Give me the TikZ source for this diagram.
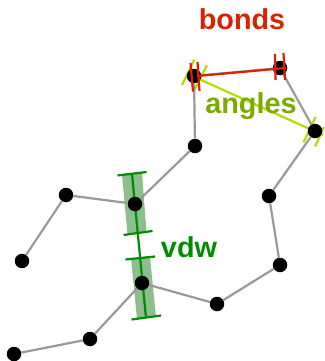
\documentclass[tikz,border=0pt]{standalone}
\usepackage{fontspec}
\setmainfont{Liberation Sans}
\definecolor{bondgray}{HTML}{999999}
\definecolor{bondsred}{HTML}{D92300}
\definecolor{anglelime}{HTML}{B4DC00}
\definecolor{anglesolive}{HTML}{7BAA00}
\definecolor{vdwgreen}{HTML}{008C00}
\definecolor{vdwband}{HTML}{8DBE8D}

\begin{document}
\begin{tikzpicture}[x=1pt, y=-1pt,
    atom/.style={circle, fill=black, inner sep=0pt, minimum size=14.5pt},
    bond/.style={bondgray, line width=2.2pt},
    bondcap/.style={bondsred, line width=2.2pt},
    anglecap/.style={anglelime, line width=2.2pt},
    vdwcap/.style={vdwgreen, line width=2.2pt},
    caption/.style={font=\fontsize{28.8}{30}\selectfont\bfseries, inner sep=0pt, anchor=base}]
            \useasboundingbox (0,0) rectangle (324,361);

            % vdw bands
            \fill[vdwband] (122,175) -- (142,173) -- (146.5,232) -- (127.5,234) -- cycle;
            \fill[vdwband] (131,258) -- (150,257) -- (156,317) -- (137,319) -- cycle;

            \coordinate (vt) at (132,174);
            \coordinate (vb) at (146,318);
            \draw[vdwcap] (vt) -- (vb);

            % angle caps
            \coordinate (at) at (190,75);
            \coordinate (ab) at (323,135);
            \draw[anglecap] (at) -- (ab);
            \draw[anglecap] (182,85) -- (194.5,59.5);
            \draw[anglecap] (194.5,90) -- (207,65);
            \draw[anglecap] (303.5,142.5) -- (315.5,117);
            \draw[anglecap] (315,146.5) -- (324,127);

            \node[atom] (1) at (22,261) {};
            \node[atom] (2) at (66,195) {};
            \node[atom] (3) at (135,204) {};
            \node[atom] (4) at (195,146) {};
            \node[atom] (5) at (194,76) {};
            \node[atom] (6) at (280,68) {};
            \node[atom] (7) at (315,131) {};
            \node[atom] (8) at (269,196) {};
            \node[atom] (9) at (280,265) {};
            \node[atom] (10) at (217,304) {};
            \node[atom] (11) at (142,283) {};
            \node[atom] (12) at (90,339) {};
            \node[atom] (13) at (14,354) {};

            \draw[bond] (1) -- (2);
            \draw[bond] (2) -- (3);
            \draw[bond] (3) -- (4);
            \draw[bond] (4) -- (5);
            \draw[bond] (5) -- (6);
            \draw[bond] (6) -- (7);
            \draw[bond] (7) -- (8);
            \draw[bond] (8) -- (9);
            \draw[bond] (9) -- (10);
            \draw[bond] (10) -- (11);
            \draw[bond] (11) -- (12);
            \draw[bond] (12) -- (13);

            % vdw caps
            \draw[vdwcap] (117.5,175.5) -- (146.5,172);
            \draw[vdwcap] (123.5,235) -- (152.5,231);
            \draw[vdwcap] (125.5,259.5) -- (155,256.5);
            \draw[vdwcap] (131.5,319.5) -- (161,315.5);

            % bond caps
            \coordinate (bt) at (197,76);
            \coordinate (bb) at (286,68);
            \draw[bondcap] (bt) -- (bb);
            \draw[bondcap] (190.5,63) -- (193,91.5);
            \draw[bondcap] (197.5,62) -- (199.5,91);
            \draw[bondcap] (275,54) -- (275.5,80);
            \draw[bondcap] (283.5,53) -- (285,80);

            \node[caption, text=bondsred] (bonds) at (242,30) {bonds};
            \node[caption, text=anglesolive] (angles) at (251,113.5) {angles};
            \node[caption, text=vdwgreen] (vdw) at (189,257) {vdw};
        \end{tikzpicture}
\end{document}
